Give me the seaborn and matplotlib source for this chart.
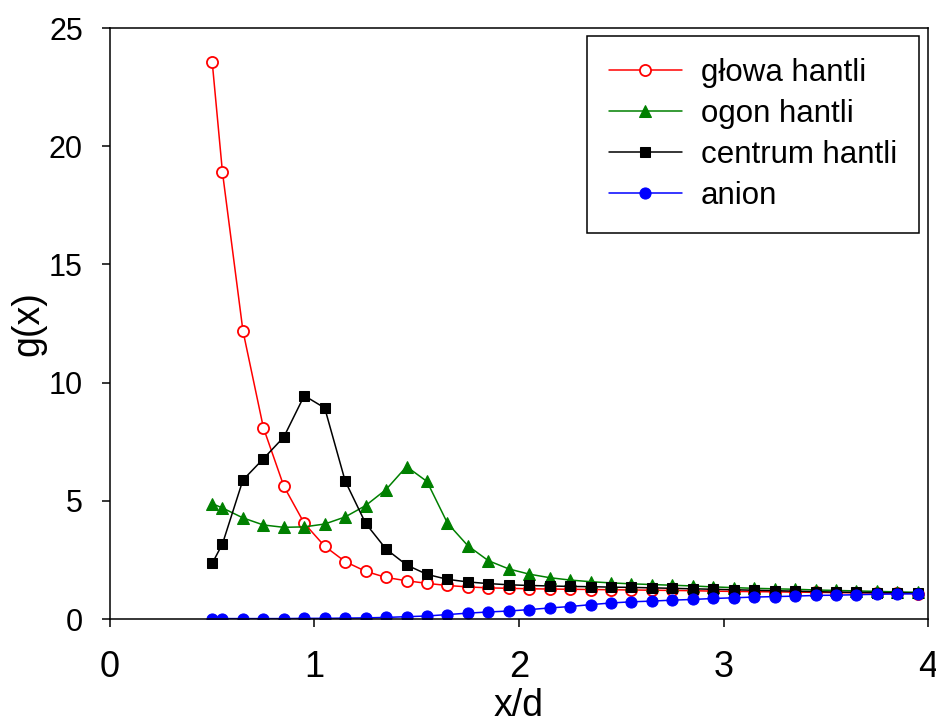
import matplotlib
matplotlib.use('agg')
import matplotlib.pyplot as plt
import pandas as pd
import seaborn as sns

# x/d sampling points
x_d = [0.5, 0.55, 0.65, 0.75, 0.85, 0.95, 1.05, 1.15, 1.25, 1.35, 1.45, 1.55,
       1.65, 1.75, 1.85, 1.95, 2.05, 2.15, 2.25, 2.35, 2.45, 2.55, 2.65, 2.75,
       2.85, 2.95, 3.05, 3.15, 3.25, 3.35, 3.45, 3.55, 3.65, 3.75, 3.85, 3.95]

glowa = [23.55, 18.9, 12.2, 8.1, 5.62, 4.05, 3.08, 2.43, 2.02, 1.76, 1.62, 1.51,
         1.42, 1.36, 1.32, 1.30, 1.28, 1.27, 1.26, 1.25, 1.24, 1.23, 1.22, 1.21,
         1.20, 1.18, 1.17, 1.16, 1.15, 1.14, 1.13, 1.12, 1.11, 1.10, 1.09, 1.08]

ogon = [4.88, 4.70, 4.28, 3.98, 3.88, 3.90, 4.02, 4.32, 4.80, 5.48, 6.45, 5.82,
        4.06, 3.10, 2.47, 2.12, 1.90, 1.75, 1.65, 1.58, 1.53, 1.49, 1.46, 1.43,
        1.40, 1.36, 1.33, 1.30, 1.28, 1.26, 1.23, 1.21, 1.19, 1.17, 1.15, 1.13]

centrum = [2.36, 3.18, 5.88, 6.78, 7.70, 9.45, 8.93, 5.84, 4.05, 2.96, 2.29, 1.89,
           1.68, 1.57, 1.50, 1.45, 1.42, 1.40, 1.38, 1.37, 1.35, 1.34, 1.32, 1.30,
           1.28, 1.26, 1.24, 1.22, 1.20, 1.18, 1.16, 1.14, 1.13, 1.12, 1.11, 1.10]

anion = [0.02, 0.02, 0.02, 0.02, 0.02, 0.03, 0.03, 0.04, 0.05, 0.07, 0.10, 0.13,
         0.19, 0.25, 0.30, 0.34, 0.40, 0.47, 0.53, 0.61, 0.68, 0.73, 0.76, 0.80,
         0.83, 0.87, 0.90, 0.93, 0.95, 0.97, 1.00, 1.01, 1.03, 1.05, 1.06, 1.07]

labels = ['głowa hantli', 'ogon hantli', 'centrum hantli', 'anion']
x_ticks = [0, 1, 2, 3, 4]
y_ticks = [0, 5, 10, 15, 20, 25]

sns.set_style('ticks')
plt.rcParams['font.family'] = ['Liberation Sans', 'DejaVu Sans']
plt.rcParams['text.color'] = 'black'
plt.rcParams['axes.labelcolor'] = 'black'
plt.rcParams['xtick.color'] = 'black'
plt.rcParams['ytick.color'] = 'black'

df = pd.DataFrame({'x': x_d, labels[0]: glowa, labels[1]: ogon,
                   labels[2]: centrum, labels[3]: anion})

styles = {
    labels[0]: dict(color='#ff0000', marker='o', markerfacecolor='white',
                    markeredgecolor='#ff0000', markeredgewidth=1.3, markersize=8),
    labels[1]: dict(color='#008000', marker='^', markerfacecolor='#008000',
                    markeredgecolor='#008000', markersize=8.5),
    labels[2]: dict(color='black', marker='s', markerfacecolor='black',
                    markeredgecolor='black', markersize=7.5),
    labels[3]: dict(color='#0000ff', marker='o', markerfacecolor='#0000ff',
                    markeredgecolor='#0000ff', markersize=8),
}

fig = plt.figure(figsize=(9.36, 7.19), dpi=100)
ax = fig.add_axes([0.1175, 0.139, 0.874, 0.822])

for name in labels:
    sns.lineplot(data=df, x='x', y=name, ax=ax, label=name, sort=False,
                 estimator=None, linewidth=1.1, **styles[name])

ax.set_xlim(0, 4)
ax.set_ylim(0, 25)
ax.set_xticks(x_ticks)
ax.set_yticks(y_ticks)
ax.set_xlabel('x/d', fontsize=27, labelpad=2)
ax.set_ylabel('g(x)', fontsize=27, labelpad=2)
ax.tick_params(axis='both', which='major', direction='out', length=6,
               width=1.1, color='black')
ax.tick_params(axis='x', labelsize=26, pad=16.5)
ax.tick_params(axis='y', labelsize=22, pad=13.5)
for sp in ax.spines.values():
    sp.set_visible(True)
    sp.set_linewidth(1.1)
    sp.set_color('black')

leg = ax.legend(loc='upper right', bbox_to_anchor=(0.989, 0.986), fontsize=22.5,
                frameon=True, fancybox=False, shadow=False, framealpha=1,
                edgecolor='black', handlelength=2.35, handletextpad=0.6,
                labelspacing=0.35, borderpad=0.7, borderaxespad=0)
leg.get_frame().set_linewidth(1.1)

fig.savefig('out.png', dpi=100)
